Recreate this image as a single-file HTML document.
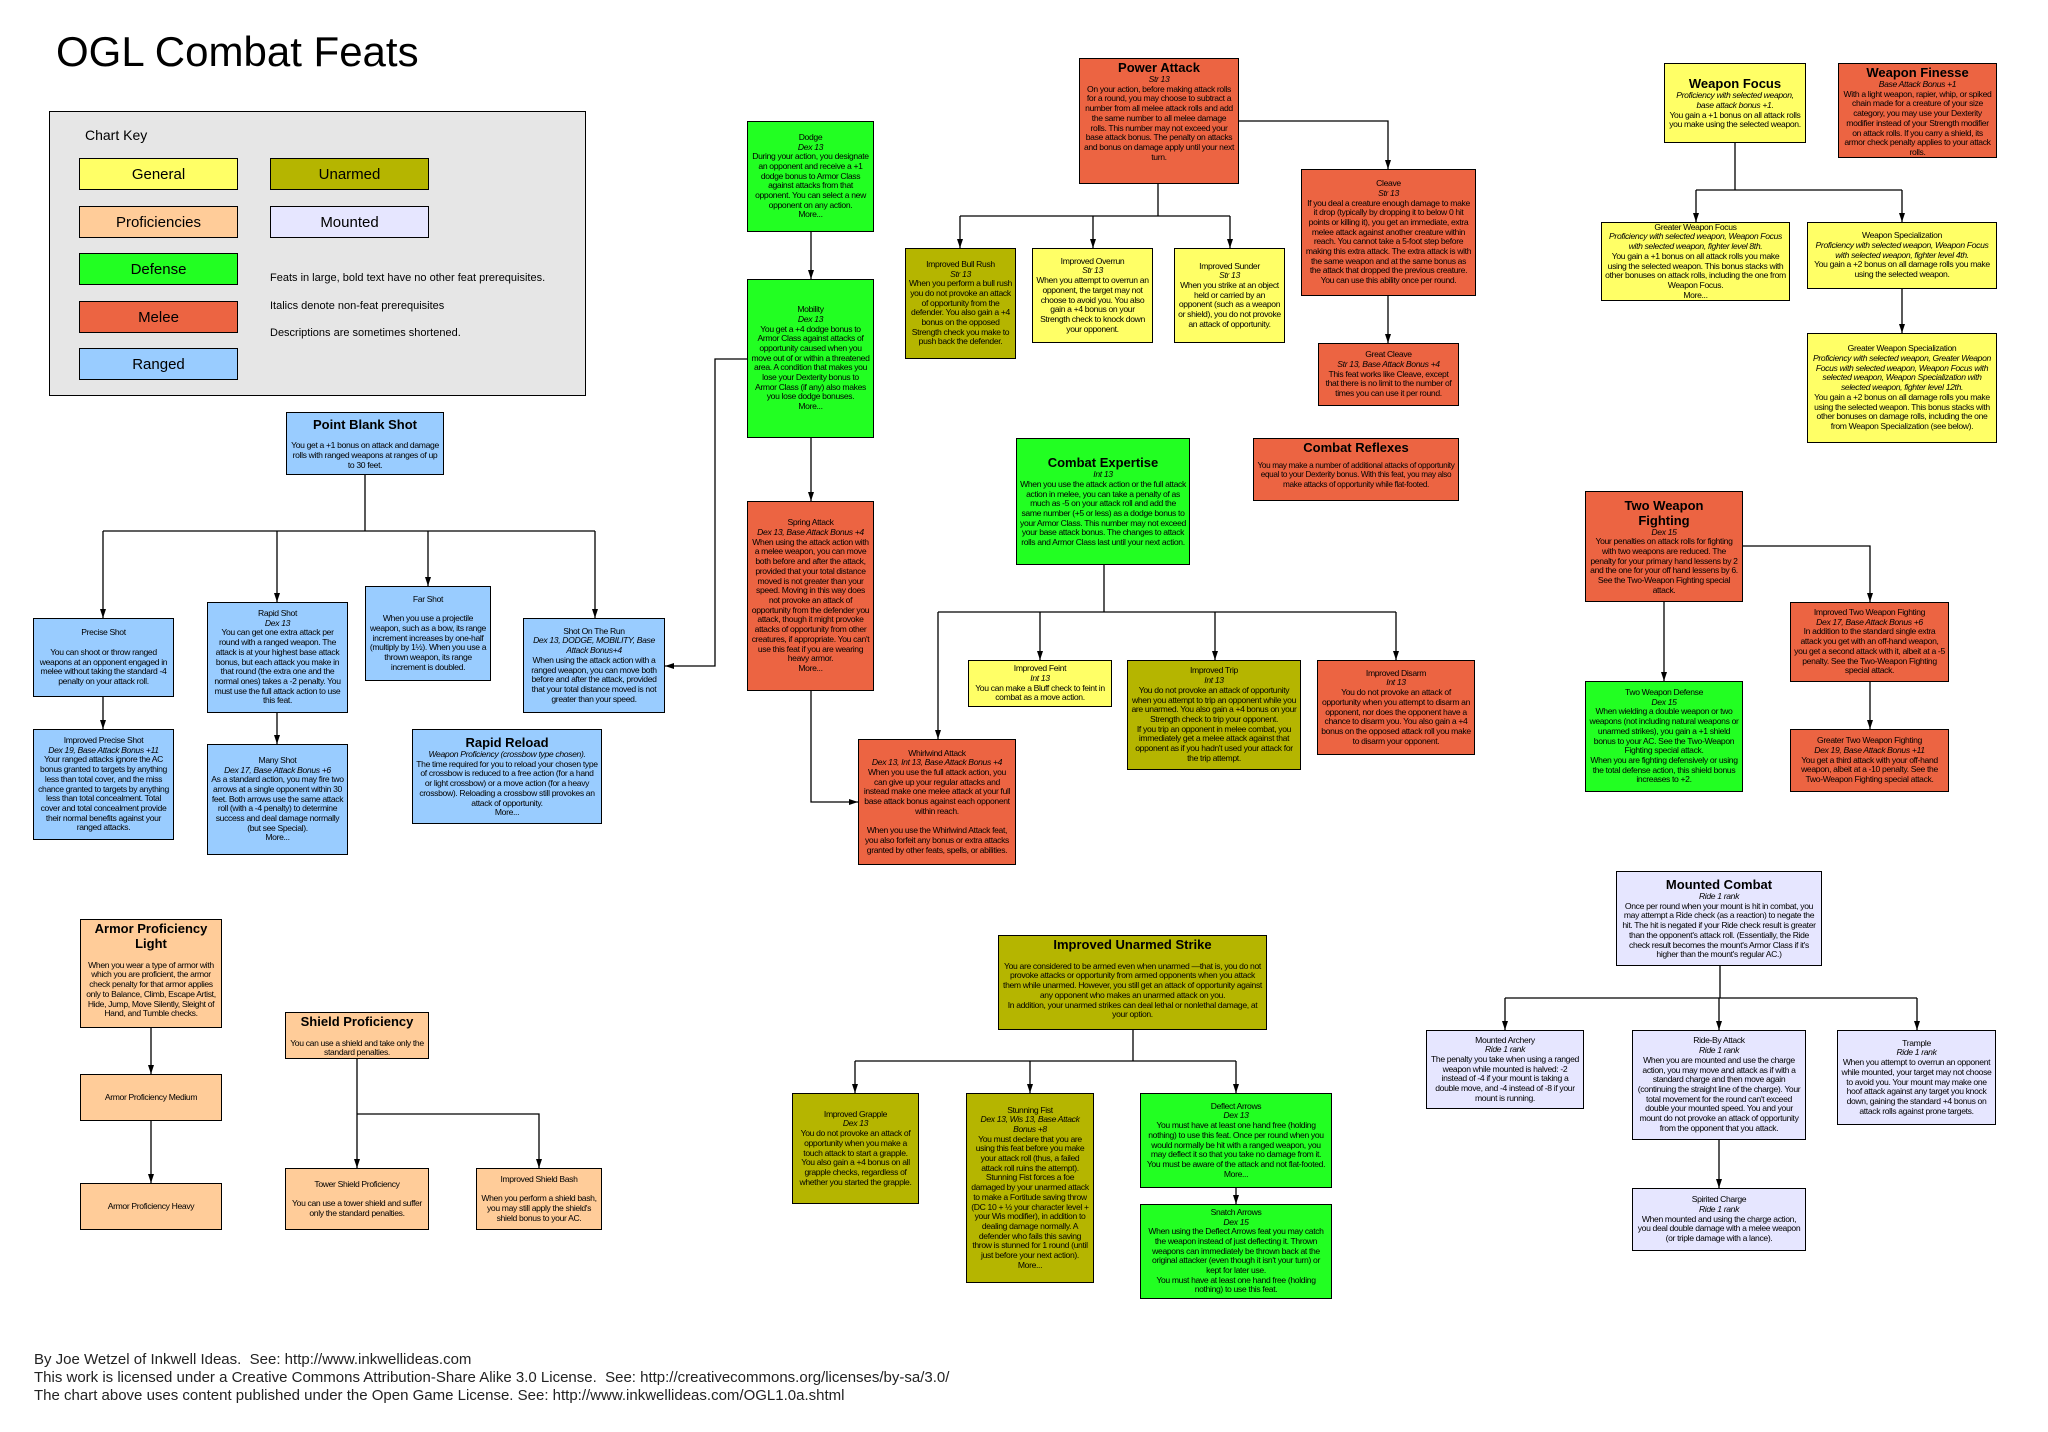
<!DOCTYPE html>
<html><head><meta charset="utf-8">
<style>
body{margin:0;background:#fff;}
#c{position:relative;width:2048px;height:1432px;overflow:hidden;font-family:"Liberation Sans",Arial,sans-serif;color:#000;}
.b{position:absolute;box-sizing:border-box;border:1.3px solid #000;display:flex;flex-direction:column;justify-content:center;align-items:center;text-align:center;font-size:8.6px;line-height:9.7px;letter-spacing:-0.35px;padding:1px 3px;overflow:hidden;}
.b i{font-style:italic;}
.t{font-weight:bold;font-size:13px;line-height:15px;letter-spacing:0;}
.g{background:#ffff66}.u{background:#b5b500}.p{background:#ffcc99}.m{background:#e6e6ff}.d{background:#22ff22}.r{background:#ec6442}.a{background:#99ccff}
.k{position:absolute;box-sizing:border-box;border:1.3px solid #000;font-size:15px;display:flex;align-items:center;justify-content:center;}
.n{position:absolute;font-size:11px;left:270px;}
svg{position:absolute;left:0;top:0;}
</style></head><body><div id="c">
<div style="position:absolute;left:56px;top:28px;font-size:42px;">OGL Combat Feats</div>
<div style="position:absolute;left:49px;top:111px;width:537px;height:285px;background:#e6e6e6;border:1.3px solid #000;box-sizing:border-box;"></div>
<div style="position:absolute;left:85px;top:127px;font-size:14px;">Chart Key</div>
<div class="k g" style="left:79px;top:158px;width:159px;height:32px;">General</div>
<div class="k u" style="left:270px;top:158px;width:159px;height:32px;">Unarmed</div>
<div class="k p" style="left:79px;top:206px;width:159px;height:32px;">Proficiencies</div>
<div class="k m" style="left:270px;top:206px;width:159px;height:32px;">Mounted</div>
<div class="k d" style="left:79px;top:253px;width:159px;height:32px;">Defense</div>
<div class="k r" style="left:79px;top:301px;width:159px;height:32px;">Melee</div>
<div class="k a" style="left:79px;top:348px;width:159px;height:32px;">Ranged</div>
<div class="n" style="top:272px;">Feats in large, bold text have no other feat prerequisites.</div>
<div class="n" style="top:300px;">Italics denote non-feat prerequisites</div>
<div class="n" style="top:327px;">Descriptions are sometimes shortened.</div>

<svg width="2048" height="1432" fill="none" stroke="#000" stroke-width="1.3">
<path d="M365 475V531M103 531H595M103 531V618M277 531V602M428 531V586M595 531V618M103 697V729M277 713V744M811 232V279M811 438V501M747 359H715V666H665M811 691V802H858M1239 121H1388V169M1158 184V216M960 216H1230M960 216V248M1093 216V248M1230 216V248M1388 296V343M1104 565V612M938 612H1396M938 612V739M1040 612V660M1215 612V660M1396 612V660M1735 143V190M1696 190H1902M1696 190V222M1902 190V222M1902 289V333M1743 546H1870V602M1664 602V681M1870 682V729M1133 1030V1061M855 1061H1236M855 1061V1093M1030 1061V1093M1236 1061V1093M1236 1188V1204M1720 966V998M1505 998H1917M1505 998V1030M1719 998V1030M1917 998V1030M1719 1140V1188M151 1028V1074M151 1121V1183M357 1059V1168M357 1114H539V1168"/>
<g fill="#000" stroke="none">
<path d="M100 609h6l-3 9zM274 593h6l-3 9zM425 577h6l-3 9zM592 609h6l-3 9zM100 720h6l-3 9zM274 735h6l-3 9zM808 270h6l-3 9zM808 492h6l-3 9zM674 663v6l-9-3zM849 799v6l9-3zM1385 160h6l-3 9zM957 239h6l-3 9zM1090 239h6l-3 9zM1227 239h6l-3 9zM1385 334h6l-3 9zM935 730h6l-3 9zM1037 651h6l-3 9zM1212 651h6l-3 9zM1393 651h6l-3 9zM1693 213h6l-3 9zM1899 213h6l-3 9zM1899 324h6l-3 9zM1867 593h6l-3 9zM1661 672h6l-3 9zM1867 720h6l-3 9zM852 1084h6l-3 9zM1027 1084h6l-3 9zM1233 1084h6l-3 9zM1233 1195h6l-3 9zM1502 1021h6l-3 9zM1716 1021h6l-3 9zM1914 1021h6l-3 9zM1716 1179h6l-3 9zM148 1065h6l-3 9zM148 1174h6l-3 9zM354 1159h6l-3 9zM536 1159h6l-3 9z"/>
</g></svg>

<div class="b a" style="left:286px;top:412px;width:158px;height:63px;"><div class="t">Point Blank Shot</div><br>You get a +1 bonus on attack and damage rolls with ranged weapons at ranges of up to 30 feet.</div>
<div class="b a" style="left:33px;top:618px;width:141px;height:79px;">Precise Shot<br><br>You can shoot or throw ranged weapons at an opponent engaged in melee without taking the standard -4 penalty on your attack roll.</div>
<div class="b a" style="left:207px;top:602px;width:141px;height:111px;">Rapid Shot<br><i>Dex 13</i>You can get one extra attack per round with a ranged weapon. The attack is at your highest base attack bonus, but each attack you make in that round (the extra one and the normal ones) takes a -2 penalty. You must use the full attack action to use this feat.</div>
<div class="b a" style="left:365px;top:586px;width:126px;height:95px;">Far Shot<br><br>When you use a projectile weapon, such as a bow, its range increment increases by one-half (multiply by 1½). When you use a thrown weapon, its range increment is doubled.</div>
<div class="b a" style="left:523px;top:618px;width:142px;height:95px;">Shot On The Run<br><i>Dex 13, DODGE, MOBILITY, Base Attack Bonus+4</i>When using the attack action with a ranged weapon, you can move both before and after the attack, provided that your total distance moved is not greater than your speed.</div>
<div class="b a" style="left:33px;top:729px;width:141px;height:111px;">Improved Precise Shot<br><i>Dex 19, Base Attack Bonus +11</i>Your ranged attacks ignore the AC bonus granted to targets by anything less than total cover, and the miss chance granted to targets by anything less than total concealment. Total cover and total concealment provide their normal benefits against your ranged attacks.</div>
<div class="b a" style="left:207px;top:744px;width:141px;height:111px;">Many Shot<br><i>Dex 17, Base Attack Bonus +6</i>As a standard action, you may fire two arrows at a single opponent within 30 feet. Both arrows use the same attack roll (with a -4 penalty) to determine success and deal damage normally (but see Special).<br>More...</div>
<div class="b a" style="left:412px;top:729px;width:190px;height:95px;"><div class="t">Rapid Reload</div><i>Weapon Proficiency (crossbow type chosen).</i>The time required for you to reload your chosen type of crossbow is reduced to a free action (for a hand or light crossbow) or a move action (for a heavy crossbow). Reloading a crossbow still provokes an attack of opportunity.<br>More...</div>

<div class="b d" style="left:747px;top:121px;width:127px;height:111px;">Dodge<br><i>Dex 13</i>During your action, you designate an opponent and receive a +1 dodge bonus to Armor Class against attacks from that opponent. You can select a new opponent on any action.<br>More...</div>
<div class="b d" style="left:747px;top:279px;width:127px;height:159px;">Mobility<br><i>Dex 13</i>You get a +4 dodge bonus to Armor Class against attacks of opportunity caused when you move out of or within a threatened area. A condition that makes you lose your Dexterity bonus to Armor Class (if any) also makes you lose dodge bonuses.<br>More...</div>
<div class="b r" style="left:747px;top:501px;width:127px;height:190px;">Spring Attack<br><i>Dex 13, Base Attack Bonus +4</i>When using the attack action with a melee weapon, you can move both before and after the attack, provided that your total distance moved is not greater than your speed. Moving in this way does not provoke an attack of opportunity from the defender you attack, though it might provoke attacks of opportunity from other creatures, if appropriate. You can't use this feat if you are wearing heavy armor.<br>More...</div>
<div class="b r" style="left:858px;top:739px;width:158px;height:126px;">Whirlwind Attack<br><i>Dex 13, Int 13, Base Attack Bonus +4</i>When you use the full attack action, you can give up your regular attacks and instead make one melee attack at your full base attack bonus against each opponent within reach.<br><br>When you use the Whirlwind Attack feat, you also forfeit any bonus or extra attacks granted by other feats, spells, or abilities.</div>

<div class="b r" style="left:1079px;top:58px;width:160px;height:126px;justify-content:flex-start;"><div class="t">Power Attack</div><i>Str 13</i>On your action, before making attack rolls for a round, you may choose to subtract a number from all melee attack rolls and add the same number to all melee damage rolls. This number may not exceed your base attack bonus. The penalty on attacks and bonus on damage apply until your next turn.</div>
<div class="b u" style="left:905px;top:248px;width:111px;height:111px;">Improved Bull Rush<br><i>Str 13</i>When you perform a bull rush you do not provoke an attack of opportunity from the defender. You also gain a +4 bonus on the opposed Strength check you make to push back the defender.</div>
<div class="b g" style="left:1032px;top:248px;width:121px;height:95px;">Improved Overrun<br><i>Str 13</i>When you attempt to overrun an opponent, the target may not choose to avoid you. You also gain a +4 bonus on your Strength check to knock down your opponent.</div>
<div class="b g" style="left:1174px;top:248px;width:111px;height:95px;">Improved Sunder<br><i>Str 13</i>When you strike at an object held or carried by an opponent (such as a weapon or shield), you do not provoke an attack of opportunity.</div>
<div class="b r" style="left:1301px;top:169px;width:175px;height:127px;">Cleave<br><i>Str 13</i>If you deal a creature enough damage to make it drop (typically by dropping it to below 0 hit points or killing it), you get an immediate, extra melee attack against another creature within reach. You cannot take a 5-foot step before making this extra attack. The extra attack is with the same weapon and at the same bonus as the attack that dropped the previous creature. You can use this ability once per round.</div>
<div class="b r" style="left:1318px;top:343px;width:141px;height:63px;">Great Cleave<br><i>Str 13, Base Attack Bonus +4</i>This feat works like Cleave, except that there is no limit to the number of times you can use it per round.</div>
<div class="b d" style="left:1016px;top:438px;width:174px;height:127px;"><div class="t">Combat Expertise</div><i>Int 13</i>When you use the attack action or the full attack action in melee, you can take a penalty of as much as -5 on your attack roll and add the same number (+5 or less) as a dodge bonus to your Armor Class. This number may not exceed your base attack bonus. The changes to attack rolls and Armor Class last until your next action.</div>
<div class="b r" style="left:1253px;top:438px;width:206px;height:63px;justify-content:flex-start;font-size:8.2px;line-height:9.4px;"><div class="t" style="margin-bottom:6px;">Combat Reflexes</div>You may make a number of additional attacks of opportunity equal to your Dexterity bonus. With this feat, you may also make attacks of opportunity while flat-footed.</div>
<div class="b g" style="left:968px;top:660px;width:144px;height:47px;">Improved Feint<br><i>Int 13</i>You can make a Bluff check to feint in combat as a move action.</div>
<div class="b u" style="left:1127px;top:660px;width:174px;height:110px;">Improved Trip<br><i>Int 13</i>You do not provoke an attack of opportunity when you attempt to trip an opponent while you are unarmed. You also gain a +4 bonus on your Strength check to trip your opponent.<br>If you trip an opponent in melee combat, you immediately get a melee attack against that opponent as if you hadn't used your attack for the trip attempt.</div>
<div class="b r" style="left:1317px;top:660px;width:158px;height:95px;">Improved Disarm<br><i>Int 13</i>You do not provoke an attack of opportunity when you attempt to disarm an opponent, nor does the opponent have a chance to disarm you. You also gain a +4 bonus on the opposed attack roll you make to disarm your opponent.</div>

<div class="b g" style="left:1664px;top:63px;width:142px;height:80px;"><div class="t">Weapon Focus</div><i>Proficiency with selected weapon, base attack bonus +1.</i>You gain a +1 bonus on all attack rolls you make using the selected weapon.</div>
<div class="b r" style="left:1838px;top:63px;width:159px;height:95px;justify-content:flex-start;"><div class="t">Weapon Finesse</div><i>Base Attack Bonus +1</i>With a light weapon, rapier, whip, or spiked chain made for a creature of your size category, you may use your Dexterity modifier instead of your Strength modifier on attack rolls. If you carry a shield, its armor check penalty applies to your attack rolls.</div>
<div class="b g" style="left:1601px;top:222px;width:189px;height:79px;">Greater Weapon Focus<br><i>Proficiency with selected weapon, Weapon Focus with selected weapon, fighter level 8th.</i>You gain a +1 bonus on all attack rolls you make using the selected weapon. This bonus stacks with other bonuses on attack rolls, including the one from Weapon Focus.<br>More...</div>
<div class="b g" style="left:1807px;top:222px;width:190px;height:67px;">Weapon Specialization<br><i>Proficiency with selected weapon, Weapon Focus with selected weapon, fighter level 4th.</i>You gain a +2 bonus on all damage rolls you make using the selected weapon.</div>
<div class="b g" style="left:1807px;top:333px;width:190px;height:110px;">Greater Weapon Specialization<br><i>Proficiency with selected weapon, Greater Weapon Focus with selected weapon, Weapon Focus with selected weapon, Weapon Specialization with selected weapon, fighter level 12th.</i>You gain a +2 bonus on all damage rolls you make using the selected weapon. This bonus stacks with other bonuses on damage rolls, including the one from Weapon Specialization (see below).</div>
<div class="b r" style="left:1585px;top:491px;width:158px;height:111px;"><div class="t">Two Weapon<br>Fighting</div><i>Dex 15</i>Your penalties on attack rolls for fighting with two weapons are reduced. The penalty for your primary hand lessens by 2 and the one for your off hand lessens by 6. See the Two-Weapon Fighting special attack.</div>
<div class="b r" style="left:1790px;top:602px;width:159px;height:80px;">Improved Two Weapon Fighting<br><i>Dex 17, Base Attack Bonus +6</i>In addition to the standard single extra attack you get with an off-hand weapon, you get a second attack with it, albeit at a -5 penalty. See the Two-Weapon Fighting special attack.</div>
<div class="b d" style="left:1585px;top:681px;width:158px;height:111px;">Two Weapon Defense<br><i>Dex 15</i>When wielding a double weapon or two weapons (not including natural weapons or unarmed strikes), you gain a +1 shield bonus to your AC. See the Two-Weapon Fighting special attack.<br>When you are fighting defensively or using the total defense action, this shield bonus increases to +2.</div>
<div class="b r" style="left:1790px;top:729px;width:159px;height:63px;">Greater Two Weapon Fighting<br><i>Dex 19, Base Attack Bonus +11</i>You get a third attack with your off-hand weapon, albeit at a -10 penalty. See the Two-Weapon Fighting special attack.</div>

<div class="b u" style="left:998px;top:935px;width:269px;height:95px;justify-content:flex-start;"><div class="t">Improved Unarmed Strike</div><br>You are considered to be armed even when unarmed —that is, you do not provoke attacks or opportunity from armed opponents when you attack them while unarmed. However, you still get an attack of opportunity against any opponent who makes an unarmed attack on you.<br>In addition, your unarmed strikes can deal lethal or nonlethal damage, at your option.</div>
<div class="b u" style="left:792px;top:1093px;width:127px;height:111px;">Improved Grapple<br><i>Dex 13</i>You do not provoke an attack of opportunity when you make a touch attack to start a grapple. You also gain a +4 bonus on all grapple checks, regardless of whether you started the grapple.</div>
<div class="b u" style="left:966px;top:1093px;width:128px;height:190px;">Stunning Fist<br><i>Dex 13, Wis 13, Base Attack Bonus +8</i>You must declare that you are using this feat before you make your attack roll (thus, a failed attack roll ruins the attempt). Stunning Fist forces a foe damaged by your unarmed attack to make a Fortitude saving throw (DC 10 + ½ your character level + your Wis modifier), in addition to dealing damage normally. A defender who fails this saving throw is stunned for 1 round (until just before your next action).<br>More...</div>
<div class="b d" style="left:1140px;top:1093px;width:192px;height:95px;">Deflect Arrows<br><i>Dex 13</i>You must have at least one hand free (holding nothing) to use this feat. Once per round when you would normally be hit with a ranged weapon, you may deflect it so that you take no damage from it. You must be aware of the attack and not flat-footed.<br>More...</div>
<div class="b d" style="left:1140px;top:1204px;width:192px;height:95px;">Snatch Arrows<br><i>Dex 15</i>When using the Deflect Arrows feat you may catch the weapon instead of just deflecting it. Thrown weapons can immediately be thrown back at the original attacker (even though it isn't your turn) or kept for later use.<br>You must have at least one hand free (holding nothing) to use this feat.</div>

<div class="b m" style="left:1616px;top:871px;width:206px;height:95px;"><div class="t">Mounted Combat</div><i>Ride 1 rank</i>Once per round when your mount is hit in combat, you may attempt a Ride check (as a reaction) to negate the hit. The hit is negated if your Ride check result is greater than the opponent's attack roll. (Essentially, the Ride check result becomes the mount's Armor Class if it's higher than the mount's regular AC.)</div>
<div class="b m" style="left:1426px;top:1030px;width:158px;height:79px;">Mounted Archery<br><i>Ride 1 rank</i>The penalty you take when using a ranged weapon while mounted is halved: -2 instead of -4 if your mount is taking a double move, and -4 instead of -8 if your mount is running.</div>
<div class="b m" style="left:1632px;top:1030px;width:174px;height:110px;">Ride-By Attack<br><i>Ride 1 rank</i>When you are mounted and use the charge action, you may move and attack as if with a standard charge and then move again (continuing the straight line of the charge). Your total movement for the round can't exceed double your mounted speed. You and your mount do not provoke an attack of opportunity from the opponent that you attack.</div>
<div class="b m" style="left:1837px;top:1030px;width:159px;height:95px;">Trample<br><i>Ride 1 rank</i>When you attempt to overrun an opponent while mounted, your target may not choose to avoid you. Your mount may make one hoof attack against any target you knock down, gaining the standard +4 bonus on attack rolls against prone targets.</div>
<div class="b m" style="left:1632px;top:1188px;width:174px;height:63px;">Spirited Charge<br><i>Ride 1 rank</i>When mounted and using the charge action, you deal double damage with a melee weapon (or triple damage with a lance).</div>

<div class="b p" style="left:80px;top:919px;width:142px;height:109px;justify-content:flex-start;"><div class="t">Armor Proficiency<br>Light</div><br>When you wear a type of armor with which you are proficient, the armor check penalty for that armor applies only to Balance, Climb, Escape Artist, Hide, Jump, Move Silently, Sleight of Hand, and Tumble checks.</div>
<div class="b p" style="left:80px;top:1074px;width:142px;height:47px;">Armor Proficiency Medium</div>
<div class="b p" style="left:80px;top:1183px;width:142px;height:47px;">Armor Proficiency Heavy</div>
<div class="b p" style="left:285px;top:1012px;width:144px;height:47px;justify-content:flex-start;"><div class="t">Shield Proficiency</div><br>You can use a shield and take only the standard penalties.</div>
<div class="b p" style="left:285px;top:1168px;width:144px;height:62px;">Tower Shield Proficiency<br><br>You can use a tower shield and suffer only the standard penalties.</div>
<div class="b p" style="left:476px;top:1168px;width:126px;height:62px;">Improved Shield Bash<br><br>When you perform a shield bash, you may still apply the shield's shield bonus to your AC.</div>

<div style="position:absolute;left:34px;top:1351px;font-size:15px;line-height:18px;color:#222;">By Joe Wetzel of Inkwell Ideas.&nbsp; See: http://www.inkwellideas.com<br>This work is licensed under a Creative Commons Attribution-Share Alike 3.0 License.&nbsp; See: http://creativecommons.org/licenses/by-sa/3.0/<br>The chart above uses content published under the Open Game License. See: http://www.inkwellideas.com/OGL1.0a.shtml</div>
</div></body></html>
